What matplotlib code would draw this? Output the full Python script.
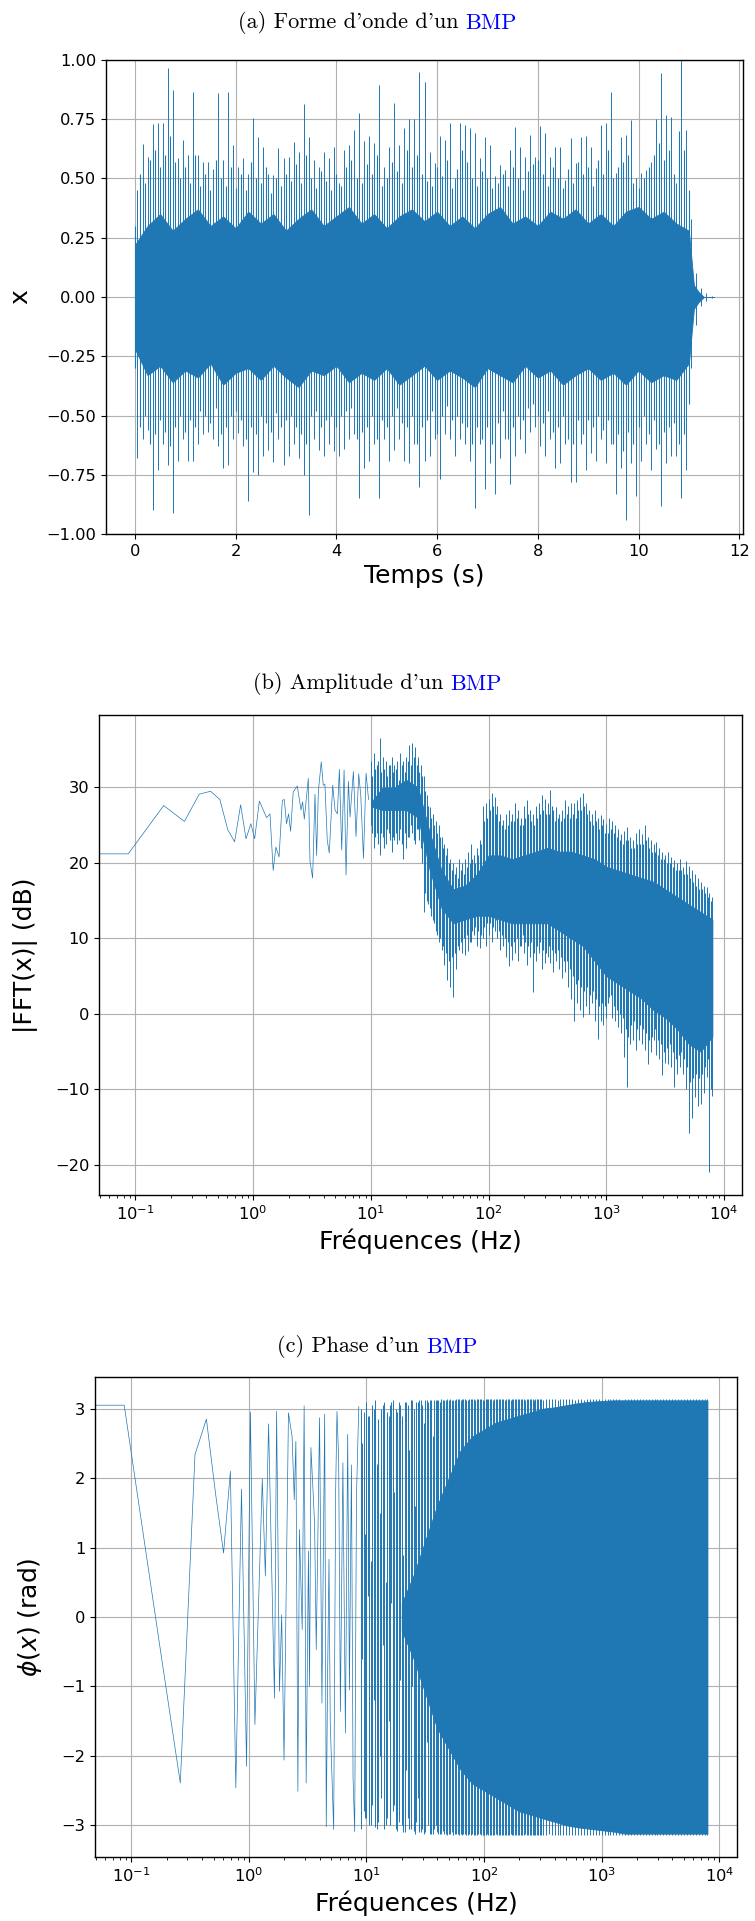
import numpy as np
import matplotlib.pyplot as plt

BLUE = "#1f77b4"

# ---- (a) waveform: per 0.1 s bin, highest / lowest sample
spike_hi = [0.45, 0.645, 0.59, 0.73, 0.735, 0.735, 0.965, 0.873, 0.585, 0.662,
            0.60, 0.864, 0.60, 0.57, 0.57, 0.54, 0.861, 0.577, 0.864, 0.64,
            0.55, 0.585, 0.52, 0.757, 0.675, 0.635, 0.52, 0.515, 0.63, 0.585,
            0.59, 0.655, 0.61, 0.813, 0.677, 0.577, 0.55, 0.61, 0.585, 0.632,
            0.48, 0.62, 0.64, 0.705, 0.778, 0.66, 0.68, 0.65, 0.894, 0.55,
            0.635, 0.817, 0.64, 0.712, 0.751, 0.751, 0.948, 0.906, 0.613, 0.564,
            0.68, 0.663, 0.735, 0.50, 0.735, 0.725, 0.711, 0.69, 0.585, 0.673,
            0.64, 0.51, 0.557, 0.536, 0.62, 0.716, 0.632, 0.592, 0.683, 0.592,
            0.722, 0.69, 0.592, 0.635, 0.635, 0.494, 0.669, 0.564, 0.677, 0.68,
            0.635, 0.543, 0.726, 0.733, 0.866, 0.522, 0.677, 0.683, 0.747, 0.50,
            0.522, 0.536, 0.571, 0.751, 0.944, 0.768, 0.761, 0.48, 0.998, 0.705,
            0.33, 0.10, 0.04, 0.015, 0.005]
spike_lo = [-0.68, -0.60, -0.56, -0.90, -0.73, -0.62, -0.71, -0.91, -0.69, -0.60,
            -0.69, -0.69, -0.62, -0.58, -0.57, -0.60, -0.63, -0.72, -0.71, -0.60,
            -0.575, -0.63, -0.86, -0.74, -0.75, -0.67, -0.645, -0.695, -0.60, -0.71,
            -0.67, -0.62, -0.68, -0.75, -0.92, -0.60, -0.645, -0.67, -0.62, -0.65,
            -0.67, -0.64, -0.60, -0.58, -0.85, -0.72, -0.69, -0.62, -0.85, -0.60,
            -0.69, -0.645, -0.60, -0.69, -0.70, -0.62, -0.80, -0.69, -0.67, -0.60,
            -0.77, -0.58, -0.60, -0.67, -0.60, -0.62, -0.69, -0.89, -0.62, -0.81,
            -0.70, -0.83, -0.68, -0.60, -0.79, -0.67, -0.60, -0.66, -0.57, -0.55,
            -0.63, -0.67, -0.60, -0.72, -0.70, -0.62, -0.78, -0.78, -0.62, -0.73,
            -0.66, -0.69, -0.60, -0.70, -0.62, -0.83, -0.72, -0.94, -0.70, -0.84,
            -0.69, -0.62, -0.73, -0.64, -0.88, -0.70, -0.67, -0.67, -0.85, -0.73,
            -0.30, -0.12, -0.04, -0.015, -0.005]
# smaller peaks lying between the bins above (t = 0.0, 0.1, ... 11.0 s)
spike2_hi = [0.30, 0.52, 0.48, 0.58, 0.62, 0.55, 0.60, 0.68, 0.57, 0.50,
             0.55, 0.48, 0.60, 0.47, 0.52, 0.45, 0.58, 0.50, 0.47, 0.55,
             0.46, 0.52, 0.45, 0.57, 0.50, 0.48, 0.55, 0.44, 0.50, 0.47,
             0.52, 0.49, 0.56, 0.48, 0.60, 0.50, 0.46, 0.53, 0.49, 0.45,
             0.52, 0.47, 0.55, 0.58, 0.50, 0.48, 0.56, 0.52, 0.60, 0.47,
             0.50, 0.57, 0.53, 0.48, 0.62, 0.55, 0.60, 0.52, 0.49, 0.47,
             0.55, 0.51, 0.58, 0.46, 0.54, 0.62, 0.57, 0.50, 0.47, 0.53,
             0.50, 0.46, 0.48, 0.52, 0.47, 0.55, 0.50, 0.45, 0.53, 0.56,
             0.58, 0.52, 0.47, 0.55, 0.50, 0.46, 0.54, 0.48, 0.57, 0.52,
             0.55, 0.47, 0.58, 0.52, 0.62, 0.50, 0.55, 0.57, 0.60, 0.48,
             0.46, 0.50, 0.55, 0.60, 0.65, 0.58, 0.62, 0.52, 0.70, 0.62,
             0.45]
spike2_lo = [-0.30, -0.55, -0.50, -0.62, -0.58, -0.52, -0.57, -0.63, -0.55, -0.50,
             -0.57, -0.52, -0.55, -0.48, -0.50, -0.53, -0.47, -0.58, -0.55, -0.50,
             -0.48, -0.52, -0.60, -0.55, -0.58, -0.50, -0.53, -0.57, -0.49, -0.55,
             -0.52, -0.50, -0.55, -0.58, -0.62, -0.50, -0.48, -0.55, -0.52, -0.50,
             -0.55, -0.50, -0.48, -0.47, -0.60, -0.57, -0.55, -0.50, -0.60, -0.52,
             -0.55, -0.50, -0.47, -0.53, -0.55, -0.50, -0.62, -0.55, -0.52, -0.48,
             -0.58, -0.50, -0.46, -0.52, -0.50, -0.53, -0.55, -0.62, -0.55, -0.60,
             -0.55, -0.62, -0.53, -0.48, -0.60, -0.55, -0.50, -0.52, -0.47, -0.45,
             -0.50, -0.53, -0.48, -0.57, -0.55, -0.50, -0.60, -0.62, -0.52, -0.58,
             -0.52, -0.55, -0.50, -0.56, -0.52, -0.62, -0.58, -0.65, -0.57, -0.62,
             -0.55, -0.50, -0.58, -0.52, -0.62, -0.57, -0.55, -0.53, -0.62, -0.58,
             -0.45]
# dense body of the waveform (every 0.25 s, then the fade-out)
core_t = [0.0, 0.25, 0.5, 0.75, 1.0, 1.25, 1.5, 1.75, 2.0, 2.25, 2.5, 2.75, 3.0,
          3.25, 3.5, 3.75, 4.0, 4.25, 4.5, 4.75, 5.0, 5.25, 5.5, 5.75, 6.0, 6.25,
          6.5, 6.75, 7.0, 7.25, 7.5, 7.75, 8.0, 8.25, 8.5, 8.75, 9.0, 9.25, 9.5,
          9.75, 10.0, 10.25, 10.5, 10.75, 11.0, 11.1, 11.2, 11.3, 11.5]
core_hi = [0.22, 0.30, 0.35, 0.28, 0.33, 0.37, 0.30, 0.34, 0.29, 0.36, 0.31, 0.35,
           0.28, 0.33, 0.37, 0.30, 0.34, 0.38, 0.31, 0.35, 0.29, 0.34, 0.37, 0.32,
           0.36, 0.30, 0.34, 0.29, 0.35, 0.38, 0.31, 0.34, 0.30, 0.36, 0.33, 0.37,
           0.31, 0.35, 0.30, 0.36, 0.38, 0.33, 0.36, 0.31, 0.28,
           0.05, 0.02, 0.0, 0.0]
core_lo = [-0.22, -0.33, -0.29, -0.36, -0.31, -0.34, -0.28, -0.37, -0.32, -0.30,
           -0.35, -0.29, -0.34, -0.38, -0.31, -0.33, -0.29, -0.36, -0.32, -0.35,
           -0.30, -0.37, -0.33, -0.29, -0.35, -0.31, -0.34, -0.38, -0.30, -0.33,
           -0.36, -0.29, -0.34, -0.31, -0.37, -0.33, -0.30, -0.35, -0.32, -0.37,
           -0.31, -0.36, -0.33, -0.35, -0.28,
           -0.05, -0.02, 0.0, 0.0]

# ---- (b) amplitude: low-frequency points, then per-bin max/min (0.025 decade bins)
amp_f = [0.0, 0.087, 0.174, 0.261, 0.348, 0.435, 0.522, 0.609, 0.696, 0.783, 0.87,
         0.957, 1.03, 1.13, 1.30, 1.39, 1.48, 1.56, 1.66, 1.77, 1.84, 1.92, 2.0,
         2.08, 2.19, 2.37, 2.55, 2.63, 2.72, 2.94, 3.04, 3.2, 3.35, 3.46, 3.58,
         3.79, 3.94, 4.07, 4.26, 4.43, 4.74, 4.96, 5.19, 5.40, 5.65, 5.92, 6.15,
         6.44, 6.65, 7.10, 7.48, 7.88, 8.2, 8.65, 9.1, 9.55]
amp_db = [21.2, 21.2, 27.6, 25.5, 29.1, 29.5, 28.4, 24.4, 22.8, 27.7, 23.2,
          25.2, 23.2, 28.2, 26.0, 26.5, 19.0, 22.1, 20.8, 28.3, 28.4, 25.2, 26.5,
          24.2, 29.4, 30.2, 27.0, 28.1, 25.8, 31.2, 20.2, 18.0, 29.1, 21.0, 29.5,
          33.4, 30.3, 30.4, 23.0, 21.3, 30.3, 27.0, 26.5, 32.4, 21.7, 32.3, 18.4,
          30.8, 26.1, 32.1, 23.5, 31.8, 29.0, 20.6, 31.9, 28.4]
amp_bin_log = np.linspace(1.0, 3.9, 117)
amp_hi = [33.5, 34.5, 33.0, 36.6, 34.0, 33.5, 33.0, 34.0, 33.0, 33.5, 34.5, 33.5,
          34.0, 35.6, 35.9, 35.4, 34.0, 33.0, 31.5, 29.0, 27.4, 26.5, 25.5, 25.0,
          23.5, 22.5, 22.0, 20.5, 20.0, 19.5, 20.5, 20.0, 20.5, 21.5, 22.5, 21.0,
          22.0, 23.0, 27.5, 27.9, 28.5, 29.2, 28.8, 27.5, 26.5, 25.7, 26.5, 27.0,
          26.5, 27.9, 27.0, 26.0, 27.5, 28.4, 27.0, 26.5, 27.5, 28.0, 29.0, 28.5,
          27.9, 29.6, 27.0, 27.4, 26.5, 27.0, 28.4, 27.5, 28.0, 27.9, 28.4, 28.8,
          29.2, 28.0, 27.0, 26.5, 27.0, 26.0, 26.3, 25.8, 25.2, 26.0, 25.5, 25.0,
          24.5, 23.8, 24.2, 24.8, 23.5, 23.0, 24.0, 24.5, 23.8, 25.0, 23.5, 23.0,
          22.5, 22.8, 22.0, 21.5, 21.0, 21.5, 20.8, 20.4, 20.0, 20.5, 19.5, 20.3,
          19.6, 19.0, 18.5, 18.0, 17.5, 17.0, 16.8, 16.0, 15.5]
amp_lo = [25.0, 22.0, 24.0, 21.0, 23.5, 22.5, 24.0, 21.5, 23.0, 22.5, 24.5, 20.5,
          22.0, 23.5, 24.0, 22.5, 24.5, 22.0, 13.5, 15.0, 14.0, 12.5, 11.0, 9.5,
          8.5, 6.5, 4.5, 3.5, 2.3, 6.0, 8.5, 8.0, 7.8, 8.3, 9.5, 10.5,
          9.0, 8.7, 10.0, 9.0, 10.5, 9.5, 11.0, 10.0, 8.5, 9.0, 7.5, 6.3,
          7.2, 8.0, 7.0, 9.0, 8.0, 6.5, 7.5, 2.9, 7.0, 8.0, 6.0, 6.7,
          7.5, 6.7, 5.5, 7.0, 6.0, 4.7, 5.5, 3.5, 2.0, -1.0, 1.5, 0.5,
          -0.4, 1.0, 0.0, 1.5, -1.0, -3.3, -1.0, -1.5, -0.5, 2.2, -0.5, -1.0,
          -1.7, -2.5, -5.7, -9.7, -4.0, -3.5, -4.8, -3.5, -4.0, -4.8, -6.6, -5.0,
          -3.5, -5.5, -6.0, -8.1, -6.5, -6.6, -7.0, -9.7, -8.0, -7.0, -8.0, -10.0,
          -15.8, -13.8, -11.0, -12.2, -12.0, -10.5, -8.3, -20.9, -10.9]
# secondary peaks half-way between the bins above
amp2_log = np.linspace(1.0125, 3.8875, 116)
amp2_hi = [31.5, 32.5, 33.5, 32.0, 32.5, 31.5, 33.0, 32.0, 32.5, 31.0, 33.0, 32.0,
           33.5, 33.0, 34.0, 33.0, 32.0, 31.5, 29.5, 27.5, 26.0, 25.0, 24.0, 23.5,
           22.0, 21.0, 20.0, 19.0, 18.5, 18.0, 19.0, 18.5, 19.5, 20.0, 20.5, 20.0,
           21.0, 22.5, 25.5, 26.0, 27.0, 27.5, 26.5, 25.5, 25.0, 24.5, 25.0, 25.5,
           25.5, 26.0, 25.0, 25.0, 26.0, 26.5, 25.5, 25.0, 26.0, 26.5, 27.0, 26.5,
           26.5, 27.5, 25.5, 26.0, 25.5, 26.0, 26.5, 26.0, 26.5, 26.0, 27.0, 27.0,
           27.5, 26.5, 25.5, 25.0, 25.5, 24.5, 25.0, 24.0, 24.0, 24.5, 24.0, 23.5,
           23.0, 22.5, 23.0, 23.0, 22.0, 22.0, 22.5, 22.5, 22.5, 23.0, 22.0, 21.5,
           21.5, 21.0, 20.5, 20.5, 20.0, 20.0, 19.5, 19.0, 19.0, 19.0, 18.5, 18.5,
           18.0, 17.5, 17.0, 16.5, 16.5, 16.0, 15.5, 15.0]
amp2_lo = [24.0, 23.5, 22.5, 24.0, 22.0, 24.5, 23.0, 23.5, 24.0, 23.0, 22.5, 24.0,
           23.5, 25.0, 23.0, 24.5, 23.0, 20.0, 16.0, 14.5, 13.0, 12.0, 10.5, 10.0,
           9.0, 8.0, 7.0, 7.5, 8.0, 9.0, 9.5, 10.0, 10.5, 9.5, 11.0, 11.5,
           11.0, 10.5, 11.5, 12.0, 12.0, 11.5, 12.5, 11.0, 10.5, 10.0, 9.5, 9.0,
           9.5, 10.0, 9.0, 10.5, 9.5, 9.0, 9.5, 8.0, 9.0, 9.5, 8.5, 8.0,
           9.0, 8.5, 8.0, 8.5, 7.5, 7.0, 7.0, 6.0, 5.0, 4.0, 4.5, 3.5,
           3.0, 3.5, 2.5, 3.0, 2.0, 1.0, 1.5, 1.0, 1.5, 2.5, 1.0, 0.5,
           0.0, -0.5, -2.0, -3.0, -1.5, -1.0, -2.0, -1.5, -2.0, -2.5, -3.5, -3.0,
           -2.0, -3.5, -4.0, -5.0, -4.5, -4.0, -5.0, -6.0, -5.5, -5.0, -6.0, -7.0,
           -9.0, -8.5, -8.0, -8.5, -8.0, -7.0, -6.0, -10.0]
amp_core_log = np.linspace(1.0, 3.9, 30)
amp_core_hi = [28, 30, 30, 31, 30, 24, 19, 16.5, 17, 18.5, 21, 21, 20.5, 21, 21.5,
               22, 21.5, 21.5, 21, 20.5, 19.5, 19, 18.5, 18, 17.5, 16.5, 15.5, 14.5,
               13.5, 12.5]
amp_core_lo = [27.5, 27, 27, 27, 26, 19, 14, 12, 12.5, 13, 13, 12.5, 12, 12, 12,
               12, 11, 10, 9, 7, 5, 4, 3, 2, 0.5, -0.5, -2, -4, -5, -3]

# ---- (c) phase
ph_f = [0.0, 0.087, 0.174, 0.261, 0.348, 0.435, 0.522, 0.609, 0.696, 0.774, 0.865,
        0.955, 1.03, 1.125, 1.30, 1.38, 1.47, 1.65, 1.72, 1.82, 1.90, 1.99, 2.17,
        2.33, 2.43, 2.51, 2.61, 2.69, 2.84, 2.95, 3.07, 3.21, 3.28, 3.37, 3.62,
        3.74, 3.99, 4.18, 4.41, 4.55, 4.67, 4.80, 4.92, 5.26, 5.47, 5.61, 5.80,
        6.0, 6.3, 6.62, 6.92, 7.16, 7.45, 7.69, 7.94, 8.22, 8.60]
ph_rad = [3.05, 3.05, -0.4, -2.39, 2.34, 2.85, 1.76, 0.92, 2.10, -2.46, 1.84,
          -2.15, 2.95, -1.55, 1.99, 0.59, 2.78, -1.17, 2.96, -1.07, 0.03, -2.06, 2.94,
          2.60, 1.69, 2.53, -2.51, 1.26, -0.18, 3.04, -2.39, 0.95, -1.0, 2.44, 1.35,
          -0.47, 2.87, -1.24, 2.92, -3.02, -0.85, 0.83, -1.53, -3.06, 1.83, 2.96, 2.27,
          -1.36, 2.22, -1.67, 2.63, -1.05, 2.19, -2.32, -3.09, 1.74, 3.03]
ph_bin_log = np.linspace(0.95, 3.9, 119)
ph_hi = [3.0, 2.95,
         3.1, 2.9, 3.05, 3.13, 2.85, 3.0, 3.1, 2.95, 3.05, 3.12, 3.0, 3.1,
         2.9, 3.1, 3.05, 3.13, 3.0, 3.1, 3.12, 3.05, 3.13, 3.1, 3.13, 3.12,
         3.13, 3.1, 3.13, 3.12, 3.13, 3.13, 3.12, 3.14, 3.13, 3.14, 3.12, 3.14,
         3.14, 3.13, 3.14, 3.14, 3.13, 3.14, 3.14, 3.13, 3.14, 3.14, 3.14, 3.13,
         3.14, 3.13, 3.14, 3.14, 3.14, 3.14, 3.13, 3.14, 3.14, 3.13, 3.14, 3.14,
         3.13, 3.14, 3.14, 3.14, 3.14, 3.13, 3.14, 3.14, 3.14, 3.14, 3.14, 3.13,
         3.14, 3.14, 3.13, 3.14, 3.14, 3.14, 3.14, 3.14, 3.13, 3.14, 3.14, 3.14,
         3.14, 3.14, 3.14, 3.13, 3.14, 3.14, 3.14, 3.14, 3.14, 3.14, 3.14, 3.14,
         3.14, 3.14, 3.14, 3.14, 3.14, 3.14, 3.14, 3.14, 3.14, 3.14, 3.14, 3.14,
         3.14, 3.14, 3.14, 3.14, 3.14, 3.14, 3.14, 3.14, 3.14]
ph_lo = [-3.05, -2.8,
         -2.9, -3.0, -2.7, -3.02, -2.95, -2.6, -3.05, -2.9, -3.0, -2.8, -3.05, -2.95,
         -3.0, -3.1, -2.9, -3.05, -3.08, -2.95, -3.1, -3.05, -3.1, -3.0, -3.12, -3.05,
         -3.1, -3.13, -3.08, -3.12, -3.12, -3.1, -3.13, -3.12, -3.13, -3.12, -3.14, -3.13,
         -3.13, -3.14, -3.12, -3.14, -3.14, -3.13, -3.14, -3.14, -3.13, -3.14, -3.14, -3.14,
         -3.14, -3.13, -3.14, -3.14, -3.14, -3.14, -3.13, -3.14, -3.14, -3.14, -3.14, -3.14,
         -3.14, -3.14, -3.13, -3.14, -3.14, -3.14, -3.14, -3.14, -3.14, -3.14, -3.14, -3.14,
         -3.14, -3.14, -3.14, -3.14, -3.14, -3.14, -3.14, -3.14, -3.14, -3.14, -3.14, -3.14,
         -3.14, -3.14, -3.14, -3.14, -3.14, -3.14, -3.14, -3.14, -3.14, -3.14, -3.14, -3.14,
         -3.14, -3.14, -3.14, -3.14, -3.14, -3.14, -3.14, -3.14, -3.14, -3.14, -3.14, -3.14,
         -3.14, -3.14, -3.14, -3.14, -3.14, -3.14, -3.14, -3.14, -3.14]
# secondary segments half-way between bins (partial swings at the low end)
ph2_log = np.linspace(0.9625, 2.4875, 62)
ph2_hi = [2.5, 1.2, 2.9, 0.8, 3.0, 2.2, 1.5, 3.05, 0.5, 2.9, 3.1, 1.8, 2.95,
          3.05, 0.9, 3.1, 2.4, 3.12, 1.6, 3.1, 3.12, 2.8, 3.13, 3.12, 2.6, 3.13,
          3.13, 3.14, 3.13, 3.14, 3.14, 3.13, 3.14, 3.14, 3.14, 3.14, 3.13, 3.14,
          3.14, 3.14, 3.14, 3.13, 3.14, 3.14, 3.14, 3.14, 3.14, 3.14, 3.14, 3.14,
          3.14, 3.14, 3.14, 3.14, 3.14, 3.14, 3.14, 3.14, 3.14, 3.14, 3.14, 3.14]
ph2_lo = [-0.6, -2.9, 0.3, -3.0, -1.2, -3.05, -2.0, -0.4, -3.0, -1.5, 0.2, -2.7,
          -3.08, -0.9, -3.1, -2.2, -3.05, -1.0, -3.12, -2.6, -3.1, -3.12, -1.8,
          -3.13, -3.12, -3.0, -3.13, -3.12, -3.13, -3.14, -3.13, -3.14, -3.13,
          -3.14, -3.14, -3.13, -3.14, -3.14, -3.14, -3.14, -3.13, -3.14, -3.14,
          -3.14, -3.14, -3.14, -3.14, -3.14, -3.14, -3.14, -3.14, -3.14, -3.14,
          -3.14, -3.14, -3.14, -3.14, -3.14, -3.14, -3.14, -3.14, -3.14]
ph_core_log = np.linspace(1.3, 3.9, 27)
ph_core_hi = [0.2, 0.6, 1.1, 1.6, 2.0, 2.4, 2.6, 2.7, 2.8, 2.85, 2.9, 2.95, 3.0,
              3.02, 3.05, 3.08, 3.1, 3.11, 3.12, 3.12, 3.12, 3.12, 3.12, 3.12,
              3.12, 3.12, 3.12]
ph_core_lo = [-0.2, -0.6, -1.1, -1.6, -1.9, -2.2, -2.4, -2.5, -2.6, -2.7, -2.8,
              -2.85, -2.9, -2.95, -3.0, -3.03, -3.05, -3.07, -3.09, -3.12, -3.12,
              -3.12, -3.12, -3.12, -3.12, -3.12, -3.12]

W, H = 755, 1921
fig = plt.figure(figsize=(W / 100, H / 100), dpi=100)


def axes_px(left, top, right, bottom):
    return fig.add_axes([left / W, 1 - bottom / H, (right - left) / W, (bottom - top) / H])


def style(ax):
    ax.grid(True, color="#b0b0b0", linewidth=0.8)
    ax.set_axisbelow(True)
    ax.tick_params(labelsize=11.7)
    for s in ax.spines.values():
        s.set_linewidth(1.0)


def title(y_px, text):
    size = 16
    black = fig.text(0, 1 - y_px / H, text + " d'un", family="cmr10", fontsize=size,
                     va="center", ha="left")
    blue = fig.text(0, 1 - y_px / H, "BMP", family="cmr10", fontsize=size,
                    color="blue", va="center", ha="left")
    r = fig.canvas.get_renderer()
    w1 = black.get_window_extent(r).width
    w2 = blue.get_window_extent(r).width
    gap = 0.333 * size * 100 / 72
    x0 = 377.5 - (w1 + gap + w2) / 2
    black.set_x(x0 / W)
    blue.set_x((x0 + w1 + gap) / W)


# (a)
ax = axes_px(106, 60, 743, 534)
style(ax)
spike_t = np.arange(len(spike_hi)) * 0.1 + 0.05
spike2_t = np.arange(len(spike2_hi)) * 0.1
ax.fill_between(core_t, core_lo, core_hi, color=BLUE, linewidth=0.6)
ax.vlines(spike2_t, spike2_lo, spike2_hi, color=BLUE, linewidth=0.8)
ax.vlines(spike_t, spike_lo, spike_hi, color=BLUE, linewidth=0.7)
ax.set_xlim(-0.575, 12.075)
ax.set_ylim(-1, 1)
ax.set_yticks(np.arange(-1, 1.01, 0.25))
ax.set_xlabel("Temps (s)", fontsize=18)
ax.set_ylabel("x", fontsize=18)
ax.yaxis.set_label_coords(-0.115, 0.5)
title(23, "(a) Forme d'onde")

# (b)
ax = axes_px(99, 715, 742, 1195)
style(ax)
ax.set_xscale("log")
ax.plot(amp_f, amp_db, color=BLUE, linewidth=0.5)
ax.fill_between(10 ** amp_core_log, amp_core_lo, amp_core_hi, color=BLUE, linewidth=0.6)
ax.vlines(10 ** amp2_log, amp2_lo, amp2_hi, color=BLUE, linewidth=0.8)
ax.vlines(10 ** amp_bin_log, amp_lo, amp_hi, color=BLUE, linewidth=0.7)
ax.set_xlim(0.0491, 14170)
ax.set_ylim(-24.0, 39.6)
ax.set_xlabel("Fréquences (Hz)", fontsize=18)
ax.set_ylabel("|FFT(x)| (dB)", fontsize=18)
ax.yaxis.set_label_coords(-0.095, 0.5)
title(684, "(b) Amplitude")

# (c)
ax = axes_px(95, 1377, 737, 1857)
style(ax)
ax.set_xscale("log")
ax.plot(ph_f, ph_rad, color=BLUE, linewidth=0.5)
ax.fill_between(10 ** ph_core_log, ph_core_lo, ph_core_hi, color=BLUE, linewidth=0.6)
ax.vlines(10 ** ph2_log, ph2_lo, ph2_hi, color=BLUE, linewidth=0.7)
ax.vlines(10 ** ph_bin_log, ph_lo, ph_hi, color=BLUE, linewidth=0.7)
ax.set_xlim(0.0491, 14170)
ax.set_ylim(-3.456, 3.456)
ax.set_xlabel("Fréquences (Hz)", fontsize=18)
ax.set_ylabel(r"$\phi(x)$ (rad)", fontsize=18)
ax.yaxis.set_label_coords(-0.079, 0.5)
title(1347, "(c) Phase")

fig.savefig("out.png", dpi=100)
